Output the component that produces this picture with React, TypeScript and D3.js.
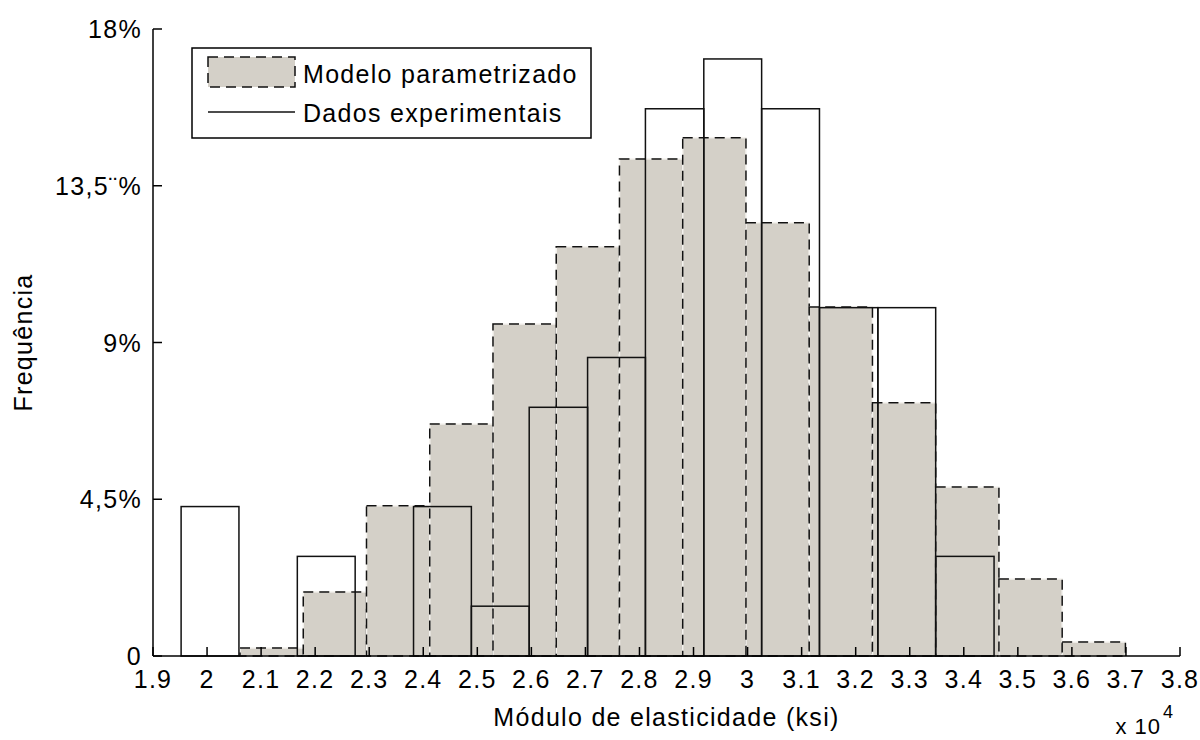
import React from 'react';
import * as d3 from 'd3';

// x values are in units of 10^4 ksi, frequencies in %
const modelEdges = [2.061, 2.178, 2.295, 2.412, 2.529, 2.646, 2.763, 2.88, 2.997, 3.114, 3.231, 3.348, 3.465, 3.582, 3.699];
const modelFreq = [0.23, 1.84, 4.31, 6.66, 9.53, 11.75, 14.27, 14.88, 12.44, 10.02, 7.27, 4.85, 2.21, 0.4];

const expEdges = [1.952, 2.059, 2.167, 2.274, 2.382, 2.489, 2.596, 2.704, 2.811, 2.919, 3.026, 3.133, 3.241, 3.348, 3.456];
const expFreq = [4.29, 0, 2.86, 0, 4.29, 1.43, 7.14, 8.57, 15.71, 17.14, 15.71, 10.0, 10.0, 2.86];

const xTicks = [1.9, 2.0, 2.1, 2.2, 2.3, 2.4, 2.5, 2.6, 2.7, 2.8, 2.9, 3.0, 3.1, 3.2, 3.3, 3.4, 3.5, 3.6, 3.7, 3.8];
const yTicks = [0, 4.5, 9, 13.5, 18];
const yTickLabels = ['0', '4,5%', '9%', '13,5¨%', '18%'];

const legendLabels = ['Modelo parametrizado', 'Dados experimentais'];

const FONT = '"Liberation Sans", Arial, sans-serif';
const GREY = '#d4d0c8';

const App = () => {
  const x = d3.scaleLinear().domain([1.9, 3.8]).range([153, 1180]);
  const y = d3.scaleLinear().domain([0, 18]).range([656, 29]);
  const fmt = d3.format('~g');

  const textStyle = { fontFamily: FONT, fontSize: 25, letterSpacing: 1.3 };

  return (
    <svg width={1200} height={740} style={{ position: 'absolute', left: 0, top: 0, background: '#fff' }}>
      <rect x={0} y={0} width={1200} height={740} fill="#fff" />

      {/* modelo parametrizado: grey bars with dashed edges */}
      <g>
        {modelFreq.map((v, i) => {
          const x0 = x(modelEdges[i]);
          const x1 = x(modelEdges[i + 1]);
          return (
            <g key={'m' + i}>
              <rect x={x0} y={y(v)} width={x1 - x0} height={y(0) - y(v)} fill={GREY} stroke="#f4f2ee" strokeWidth={1.5} />
              <rect x={x0} y={y(v)} width={x1 - x0} height={y(0) - y(v)} fill="none" stroke="#111" strokeWidth={1.5} strokeDasharray="10 6" />
            </g>
          );
        })}
      </g>

      {/* dados experimentais: outlined bars, drawn on top */}
      <g>
        {expFreq.map((v, i) => {
          if (v === 0) return null;
          const x0 = x(expEdges[i]);
          const x1 = x(expEdges[i + 1]);
          return (
            <rect key={'e' + i} x={x0} y={y(v)} width={x1 - x0} height={y(0) - y(v)} fill="none" stroke="#111" strokeWidth={1.5} />
          );
        })}
      </g>

      {/* axes, ticks pointing inward */}
      <g stroke="#000" strokeWidth={1.5} fill="none">
        <line x1={x(1.9)} x2={x(1.9)} y1={y(0)} y2={y(18)} />
        <line x1={x(1.9)} x2={x(3.8)} y1={y(0)} y2={y(0)} />
        {yTicks.map((t) => (
          <line key={'yt' + t} x1={x(1.9)} x2={x(1.9) + 9} y1={y(t)} y2={y(t)} />
        ))}
        {xTicks.map((t) => (
          <line key={'xt' + t} x1={x(t)} x2={x(t)} y1={y(0)} y2={y(0) - 9} />
        ))}
      </g>

      {yTicks.map((t, i) => (
        <text key={'yl' + t} x={142} y={y(t) + 9} textAnchor="end" style={textStyle}>
          {yTickLabels[i]}
        </text>
      ))}
      {xTicks.map((t) => (
        <text key={'xl' + t} x={x(t)} y={688} textAnchor="middle" style={textStyle}>
          {fmt(t)}
        </text>
      ))}

      <text x={(x(1.9) + x(3.8)) / 2} y={726} textAnchor="middle" style={textStyle}>
        Módulo de elasticidade (ksi)
      </text>
      <text x={1161} y={734} textAnchor="end" style={{ ...textStyle, fontSize: 22, letterSpacing: 1 }}>
        x 10
      </text>
      <text x={1163} y={718} style={{ ...textStyle, fontSize: 18 }}>
        4
      </text>
      <text transform={`translate(32, ${(y(0) + y(18)) / 2}) rotate(-90)`} textAnchor="middle" style={textStyle}>
        Frequência
      </text>

      {/* legend */}
      <g>
        <rect x={192} y={48} width={399} height={90} fill="#fff" stroke="#000" strokeWidth={1.5} />
        <rect x={208} y={57} width={87} height={30} fill={GREY} stroke="#111" strokeWidth={1.5} strokeDasharray="10 6" />
        <line x1={208} x2={295} y1={112} y2={112} stroke="#111" strokeWidth={1.5} />
        <text x={303} y={83} style={textStyle}>{legendLabels[0]}</text>
        <text x={303} y={122} style={textStyle}>{legendLabels[1]}</text>
      </g>
    </svg>
  );
};

export default App;
